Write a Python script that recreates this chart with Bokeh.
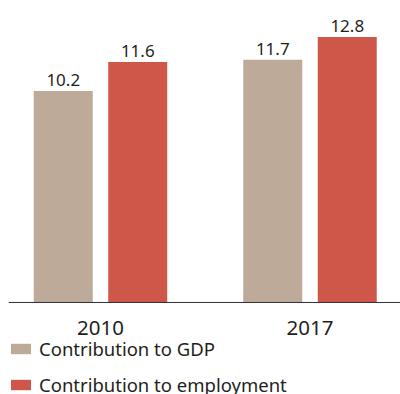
from bokeh.plotting import figure
from bokeh.models import Range1d, Legend, LegendItem, ColumnDataSource, Span
from bokeh.core.properties import value
from bokeh.embed import file_html
from bokeh.resources import INLINE

years = ["2010", "2017"]
gdp = [10.2, 11.7]
employment = [11.6, 12.8]
series_names = ["Contribution to GDP", "Contribution to employment"]
colors = ["#BDAA99", "#CF574A"]

FONT = "Noto Sans"
TEXT_COLOR = "#231F20"

idx = list(range(len(years)))
offset = 0.1778
bar_w = 0.2816

p = figure(width=400, height=394, output_backend="svg", toolbar_location=None,
           x_range=Range1d(-0.4391, 1.432), y_range=Range1d(-4.436, 14.175),
           min_border_left=8, min_border_right=0, min_border_top=8, min_border_bottom=0)
p.outline_line_color = None
p.grid.visible = False
p.xaxis.visible = False
p.yaxis.visible = False
p.background_fill_color = "white"
p.border_fill_color = "white"

renderers = []
for vals, off, col in [(gdp, -offset, colors[0]), (employment, offset, colors[1])]:
    xs = [i + off for i in idx]
    src = ColumnDataSource(dict(x=xs, top=vals, label=[f"{v:.1f}" for v in vals]))
    r = p.vbar(x="x", top="top", width=bar_w, bottom=0, source=src,
               fill_color=col, line_color=None)
    renderers.append(r)
    p.text(x="x", y="top", text="label", source=src, text_align="center",
           text_baseline="alphabetic", y_offset=-11, text_font=value(FONT),
           text_font_size="17px", text_color=TEXT_COLOR)

# baseline (category axis line) and category labels
p.add_layout(Span(location=0, dimension="width", line_color="#333333", line_width=1))
cat_src = ColumnDataSource(dict(x=idx, y=[0] * len(idx), text=years))
p.text(x="x", y="y", text="text", source=cat_src, text_align="center",
       text_baseline="alphabetic", y_offset=26, text_font=value(FONT),
       text_font_size="20.5px", text_color=TEXT_COLOR)

legend = Legend(items=[LegendItem(label=n, renderers=[r]) for n, r in zip(series_names, renderers)],
                location=(0, -3), orientation="vertical")
legend.border_line_color = None
legend.background_fill_alpha = 0
legend.margin = 0
legend.padding = 0
legend.spacing = 11
legend.glyph_width = 25
legend.glyph_height = 13
legend.label_standoff = 6
legend.label_height = 20
legend.label_text_font = FONT
legend.label_text_font_size = "18.5px"
legend.label_text_color = TEXT_COLOR
p.add_layout(legend, "center")

open("out.html", "w").write(file_html(p, INLINE))
